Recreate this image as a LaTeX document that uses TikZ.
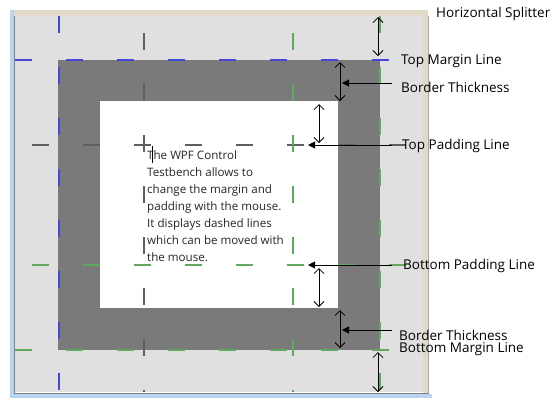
\documentclass[tikz,border=0pt]{standalone}
\usepackage{fontspec}
\setmainfont{Open Sans}
\usetikzlibrary{arrows.meta}
\definecolor{marginblue}{RGB}{70,70,215}
\definecolor{paddinggreen}{RGB}{95,170,95}
\definecolor{paddinggray}{RGB}{95,95,95}
\definecolor{panelgray}{RGB}{224,224,224}
\definecolor{borderdark}{RGB}{122,122,122}
\definecolor{framebeige}{RGB}{226,218,200}
\definecolor{frameblue}{RGB}{185,212,240}

\begin{document}
\begin{tikzpicture}[x=1pt,y=-1pt,
    marginline/.style={line width=1.3pt, dash pattern=on 17pt off 34pt},
    paddingline/.style={line width=1.3pt, dash pattern=on 17pt off 34pt, dash phase=34pt},
    dblarrow/.style={thick, {Straight Barb[length=5pt,width=10pt]}-{Straight Barb[length=5pt,width=10pt]}},
    pointer/.style={thick, -{Triangle[length=7pt,width=7pt]}},
    callout/.style={anchor=west, inner sep=0pt, font=\fontsize{13.5}{15}\selectfont}]
    \useasboundingbox (0,0) rectangle (560,405);

    \fill[framebeige] (10,10) rectangle (428,16);
    \fill[frameblue] (10,10) rectangle (14,398);
    \fill[frameblue] (10,394) rectangle (432,398);
    \fill[panelgray] (15,16) rectangle (423,392);
    \fill[framebeige] (423,10) rectangle (428,393);
    \draw[gray] (14.5,16) -- (14.5,393) -- (429,393);
    \draw[gray!70] (428.5,16) -- (428.5,393);

    \fill[borderdark] (58,60) rectangle (380,350);
    \fill[white] (100,101) rectangle (338,308);

    \draw[marginline, marginblue] (15,60) -- (423,60);
    \draw[marginline, marginblue] (59,16) -- (59,392);
    \draw[marginline, paddinggreen] (15,350) -- (423,350);
    \draw[marginline, paddinggreen] (380,16) -- (380,392);
    \draw[paddingline, paddinggray] (15,145) -- (423,145);
    \draw[paddingline, paddinggray] (144,16) -- (144,392);
    \draw[paddingline, paddinggreen] (15,265) -- (423,265);
    \draw[paddingline, paddinggreen] (293,16) -- (293,392);

    \node[anchor=north west, inner sep=0pt, align=left, text=black!85,
        font=\fontsize{11.6}{17}\selectfont] (testbench) at (147,150)
        {The WPF Control\\Testbench allows to\\change the margin and\\padding with the mouse.\\It displays dashed lines\\which can be moved with\\the mouse.};
    \coordinate (caret top) at (152,146);
    \coordinate (caret bottom) at (152,163);
    \draw (caret top) -- (caret bottom);

    \coordinate (split a) at (378,17);
    \coordinate (split b) at (378,56);
    \coordinate (border a) at (340,62);
    \coordinate (border b) at (340,101);
    \coordinate (toppad a) at (319,104);
    \coordinate (toppad b) at (319,143);
    \coordinate (botpad a) at (319,268);
    \coordinate (botpad b) at (319,307);
    \coordinate (border c) at (340,310);
    \coordinate (border d) at (340,348);
    \coordinate (botmargin a) at (378,352);
    \coordinate (botmargin b) at (378,392);
    \draw[dblarrow] (split a) -- (split b);
    \draw[dblarrow] (border a) -- (border b);
    \draw[dblarrow] (toppad a) -- (toppad b);
    \draw[dblarrow] (botpad a) -- (botpad b);
    \draw[dblarrow] (border c) -- (border d);
    \draw[dblarrow] (botmargin a) -- (botmargin b);

    \node[callout] (splitter) at (436,14) {Horizontal Splitter};
    \node[callout] (top margin) at (401,61) {Top Margin Line};
    \node[callout] (top border) at (401,87) {Border Thickness};
    \node[callout] (top padding) at (402,146) {Top Padding Line};
    \node[callout] (bottom padding) at (403,266) {Bottom Padding Line};
    \node[callout] (bottom border) at (399,335) {Border Thickness};
    \node[callout] (bottom margin) at (399,349) {Bottom Margin Line};

    \coordinate (top border tail) at (392,83);
    \coordinate (top border tip) at (342,83);
    \coordinate (top padding tail) at (392,145);
    \coordinate (top padding tip) at (308,145);
    \coordinate (bottom padding tail) at (392,265);
    \coordinate (bottom padding tip) at (308,265);
    \coordinate (bottom border tail) at (392,330);
    \coordinate (bottom border tip) at (342,330);
    \draw[pointer] (top border tail) -- (top border tip);
    \draw[pointer] (top padding tail) -- (top padding tip);
    \draw[pointer] (bottom padding tail) -- (bottom padding tip);
    \draw[pointer] (bottom border tail) -- (bottom border tip);
\end{tikzpicture}
\end{document}
